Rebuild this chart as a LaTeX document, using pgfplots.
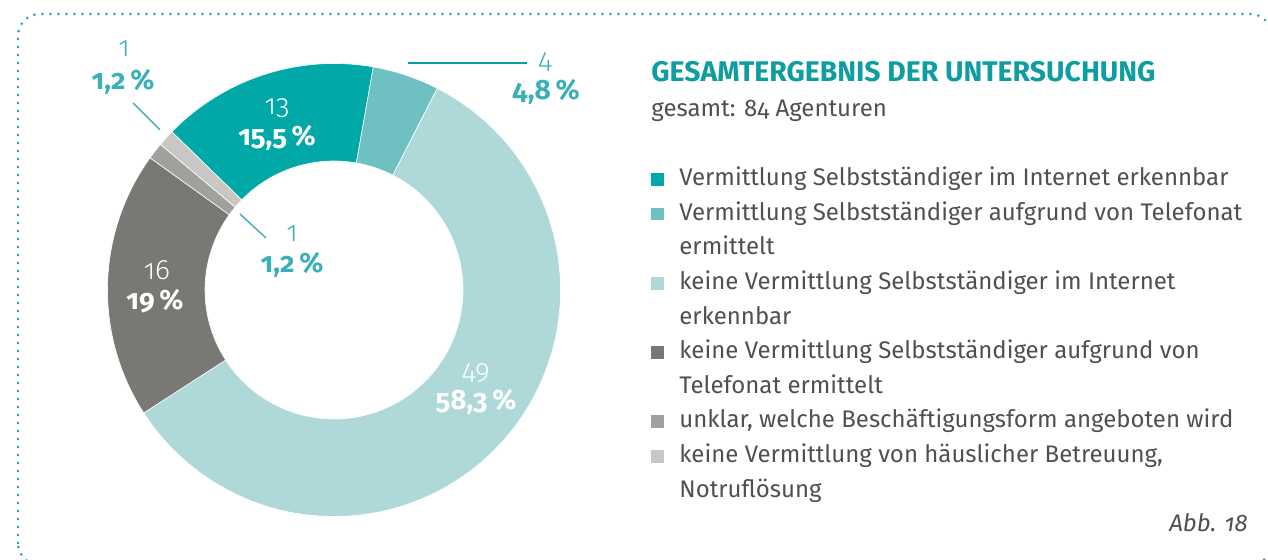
\documentclass[border=0pt]{standalone}
\usepackage{fontspec}
\setmainfont{Fira Sans}[Numbers=OldStyle]
\newfontfamily\lightfont{Fira Sans}[Numbers=OldStyle, UprightFont={* Light}]
\usepackage{pgfplots}
\pgfplotsset{compat=1.18}
\usepackage{pgfplotstable}

\definecolor{cA}{RGB}{0,168,168}
\definecolor{cB}{RGB}{111,193,193}
\definecolor{cC}{RGB}{174,217,216}
\definecolor{cD}{RGB}{122,120,116}
\definecolor{cE}{RGB}{160,160,157}
\definecolor{cF}{RGB}{200,199,197}
\definecolor{titleteal}{RGB}{14,157,160}
\definecolor{lblteal}{RGB}{58,176,182}
\definecolor{txtgray}{RGB}{80,80,80}
\definecolor{dotteal}{RGB}{20,160,170}

% agencies per category, clockwise from the top left
\pgfplotstableread{
n  col
13 cA
4  cB
49 cC
16 cD
1  cE
1  cF
}\slices

\newcommand\lbl{\fontsize{14}{16}\selectfont}

\begin{document}
\begin{tikzpicture}
\path[use as bounding box] (0,0) rectangle (634pt,280pt);
\clip (0,0) rectangle (634pt,280pt);

% dotted frame
\draw[dotteal, line width=1.4pt, line cap=round, dash pattern=on 0pt off 4pt,
  rounded corners=11pt] (9pt,-2.5pt) rectangle (636pt,273pt);

\begin{axis}[
  hide axis,
  x=0.5pt, y=0.5pt,
  xmin=-230, xmax=230, ymin=-230, ymax=230,
  anchor=origin, at={(167pt,135pt)},
  clip=false,
]
\pgfplotstablegetrowsof{\slices}
\pgfmathtruncatemacro\last{\pgfplotsretval-1}
\def\cur{135.714}
\pgfplotsforeachungrouped \i in {0,...,\last}{%
  \pgfplotstablegetelem{\i}{n}\of\slices \let\slicen\pgfplotsretval
  \pgfplotstablegetelem{\i}{col}\of\slices \let\slicecol\pgfplotsretval
  \pgfmathsetmacro\nxt{\cur-\slicen/84*360}%
  \edef\temp{\noexpand\fill[\slicecol, draw=white, line width=0.3pt, shift={(axis cs:0,0)}]
    (\cur:113.25pt) arc[start angle=\cur, end angle=\nxt, radius=113.25pt]
    -- (\nxt:64.5pt) arc[start angle=\nxt, end angle=\cur, radius=64.5pt] -- cycle;}%
  \temp
  \let\cur\nxt
}

% value labels
\node[white, font=\lbl\lightfont] at (axis cs:-57,182) {13};
\node[white, font=\lbl\bfseries] at (axis cs:-57,152) {15,5\,\%};
\node[white, font=\lbl\lightfont] at (axis cs:-177,20) {16};
\node[white, font=\lbl\bfseries] at (axis cs:-179,-11) {19\,\%};
\node[white, font=\lbl\lightfont] at (axis cs:142,-83) {49};
\node[white, font=\lbl\bfseries] at (axis cs:142,-112) {58,3\,\%};

\draw[titleteal, line width=0.8pt] (axis cs:74,227) -- (axis cs:193,227);
\node[lblteal, font=\lbl\lightfont] at (axis cs:211,228) {4};
\node[lblteal, font=\lbl\bfseries] at (axis cs:212,198) {4,8\,\%};

\draw[lblteal, line width=0.7pt] (axis cs:-201,187) -- (axis cs:-174,160);
\node[lblteal, font=\lbl\lightfont] at (axis cs:-210,241) {1};
\node[lblteal, font=\lbl\bfseries] at (axis cs:-211,208) {1,2\,\%};

\draw[lblteal, line width=0.7pt] (axis cs:-94,76) -- (axis cs:-68,52);
\node[lblteal, font=\lbl\lightfont] at (axis cs:-42,56) {1};
\node[lblteal, font=\lbl\bfseries] at (axis cs:-42,25) {1,2\,\%};
\end{axis}

% title and legend
\node[anchor=base west, inner sep=0, titleteal, font=\fontsize{14.2}{16}\selectfont\bfseries]
  at (325.5pt,239.15pt) {GESAMTERGEBNIS DER UNTERSUCHUNG};
\node[anchor=base west, inner sep=0, txtgray, font=\fontsize{12}{14}\selectfont]
  at (325.5pt,221.5pt) {gesamt: 84 Agenturen};

\begin{scope}[every node/.style={anchor=base west, inner sep=0, txtgray,
    font=\fontsize{12}{14}\selectfont}]
\fill[cA] (328.75pt,190.25pt) +(-3.1pt,-3.1pt) rectangle +(3.1pt,3.1pt);
\node at (339.5pt,187pt) {Vermittlung Selbstständiger im Internet erkennbar};
\fill[cB] (328.75pt,173pt) +(-3.1pt,-3.1pt) rectangle +(3.1pt,3.1pt);
\node at (339.5pt,169.75pt) {Vermittlung Selbstständiger aufgrund von Telefonat};
\node at (339.5pt,152.5pt) {ermittelt};
\fill[cC] (328.75pt,138.25pt) +(-3.1pt,-3.1pt) rectangle +(3.1pt,3.1pt);
\node at (339.5pt,135pt) {keine Vermittlung Selbstständiger im Internet};
\node at (339.5pt,117.75pt) {erkennbar};
\fill[cD] (328.75pt,103.75pt) +(-3.1pt,-3.1pt) rectangle +(3.1pt,3.1pt);
\node at (339.5pt,100.5pt) {keine Vermittlung Selbstständiger aufgrund von};
\node at (339.5pt,83.25pt) {Telefonat ermittelt};
\fill[cE] (328.75pt,69.25pt) +(-3.1pt,-3.1pt) rectangle +(3.1pt,3.1pt);
\node at (339.5pt,66pt) {unklar, welche Beschäftigungsform angeboten wird};
\fill[cF] (328.75pt,51.75pt) +(-3.1pt,-3.1pt) rectangle +(3.1pt,3.1pt);
\node at (339.5pt,48.5pt) {keine Vermittlung von häuslicher Betreuung,};
\node at (339.5pt,31.25pt) {Notruflösung};
\end{scope}

\node[anchor=base east, inner sep=0, txtgray, font=\fontsize{12}{14}\selectfont\itshape]
  at (624pt,14pt) {Abb. 18};
\end{tikzpicture}
\end{document}
